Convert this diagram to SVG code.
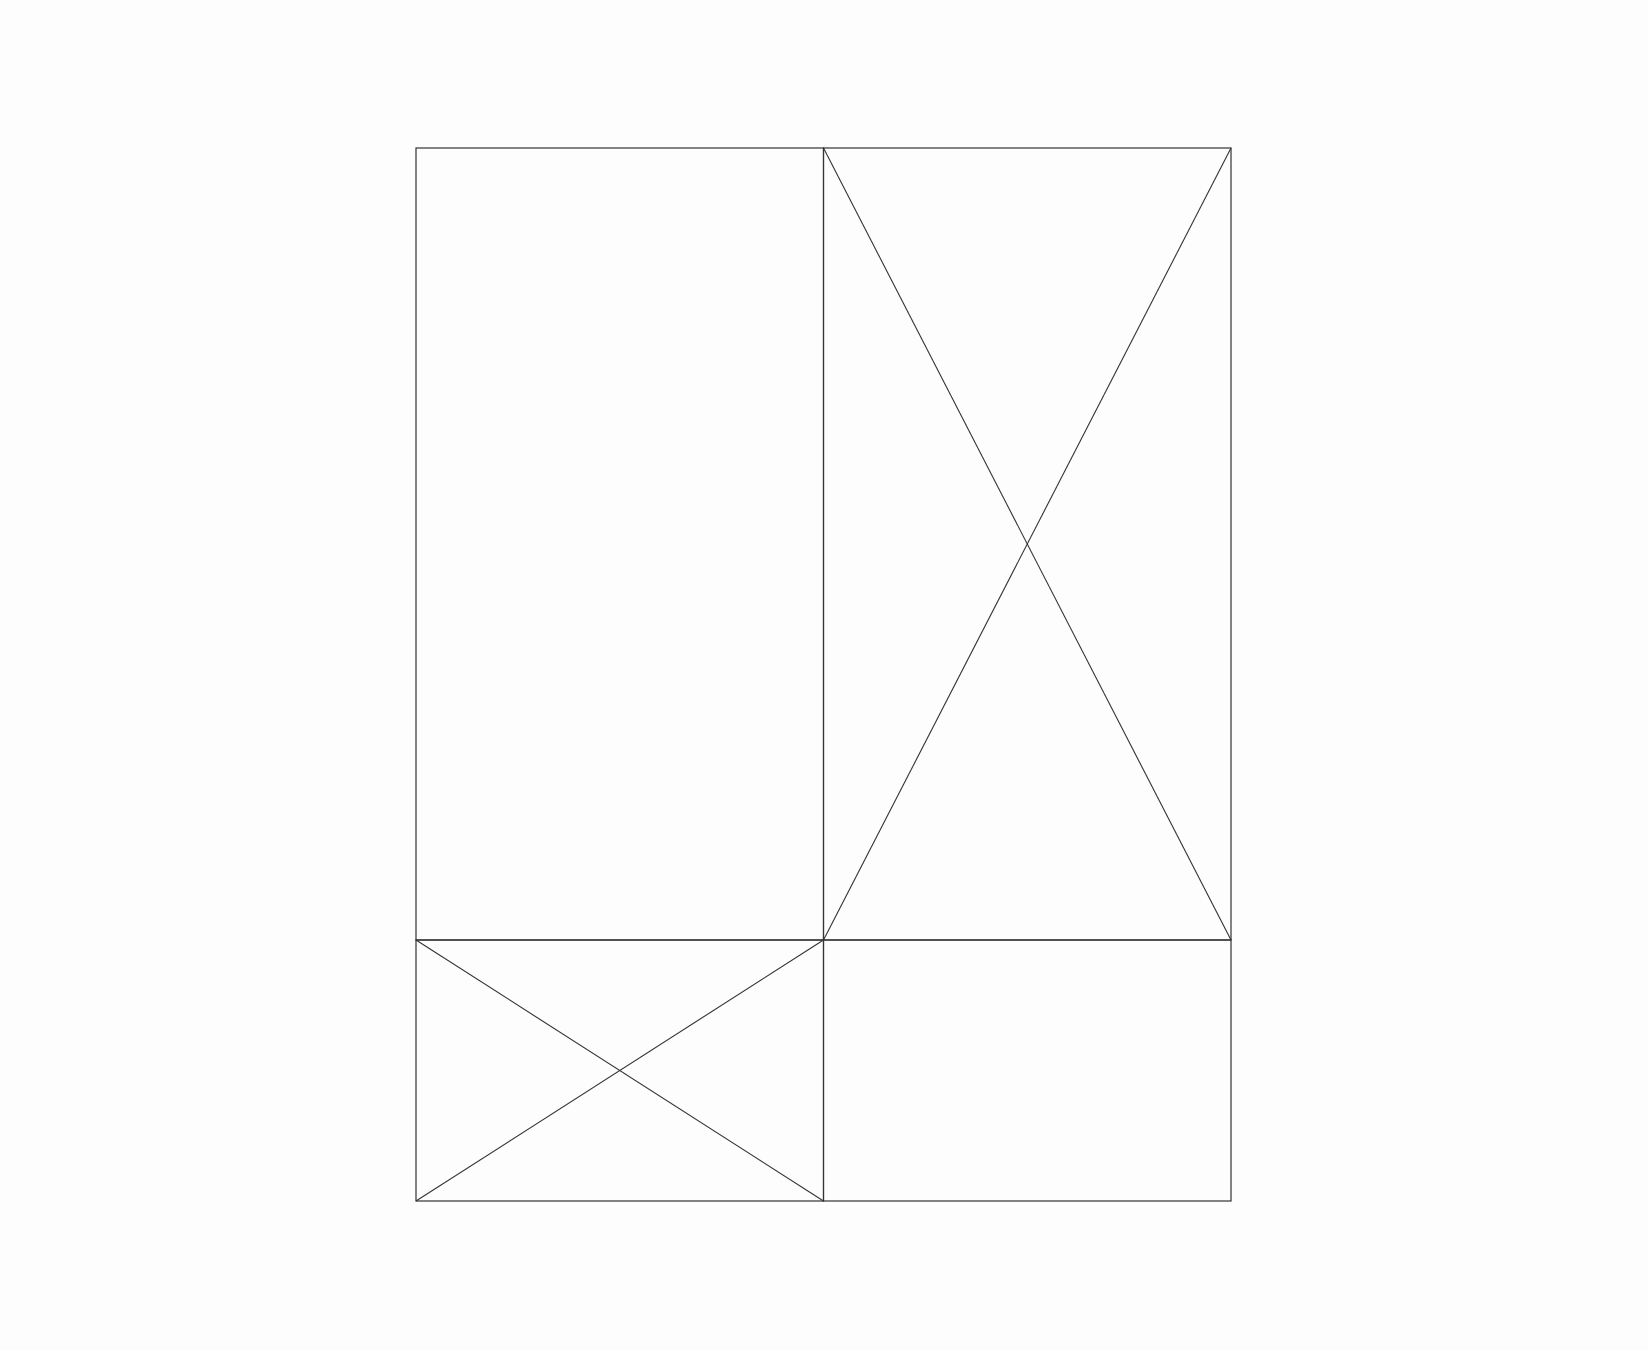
<svg xmlns="http://www.w3.org/2000/svg" width="1648" height="1350" viewBox="0 0 1648 1350">
<style>
.b{fill:none;stroke:#333;stroke-width:1.2}
.d{fill:none;stroke:#333;stroke-width:1.1}
</style>
<rect x="0" y="0" width="1648" height="1350" fill="#fdfdfd"/>
<g id="panel-top-left"><rect class="b" x="416" y="148" width="407.5" height="792"/></g>
<g id="panel-top-right"><rect class="b" x="823.5" y="148" width="407.5" height="792"/></g>
<g id="panel-bottom-left"><rect class="b" x="416" y="940" width="407.5" height="261"/></g>
<g id="panel-bottom-right"><rect class="b" x="823.5" y="940" width="407.5" height="261"/></g>
<g id="connectors">
<line class="d" x1="823.5" y1="148" x2="1231" y2="940"/>
<line class="d" x1="1231" y1="148" x2="823.5" y2="940"/>
<line class="d" x1="416" y1="940" x2="823.5" y2="1201"/>
<line class="d" x1="823.5" y1="940" x2="416" y2="1201"/>
</g>
</svg>
